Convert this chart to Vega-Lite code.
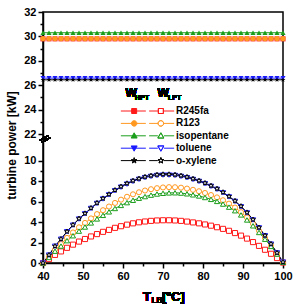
{
  "$schema": "https://vega.github.io/schema/vega-lite/v6.json",
  "width": 240,
  "height": 251,
  "autosize": {"type": "none"},
  "padding": {"left": 43, "top": 12, "right": 10, "bottom": 45},
  "background": "white",
  "config": {
    "font": "Liberation Sans",
    "view": {"stroke": "black", "strokeWidth": 1.5},
    "axis": {
      "domainColor": "black", "domainWidth": 1.5, "tickColor": "black", "tickWidth": 1.5,
      "labelColor": "black", "labelFont": "Liberation Sans", "labelFontWeight": "bold", "labelFontSize": 11,
      "labelOverlap": false, "labelFlush": false,
      "titleColor": "black", "titleFont": "Liberation Sans", "titleFontWeight": "bold", "grid": false
    },
    "legend": {
      "orient": "none", "legendX": 99, "legendY": 93.5, "title": null, "padding": 0,
      "labelFont": "Liberation Sans", "labelFontSize": 10, "labelFontWeight": "bold", "labelColor": "black",
      "labelOffset": 23, "rowPadding": 1.4, "symbolSize": 100, "symbolStrokeWidth": 1
    }
  },
  "data": {"values": [
    {"fluid":"R245fa","stage":"HPT","T":40,"W":29.8},{"fluid":"R245fa","stage":"HPT","T":41.5,"W":29.8},{"fluid":"R245fa","stage":"HPT","T":43,"W":29.8},{"fluid":"R245fa","stage":"HPT","T":44.5,"W":29.8},{"fluid":"R245fa","stage":"HPT","T":46,"W":29.8},{"fluid":"R245fa","stage":"HPT","T":47.5,"W":29.8},{"fluid":"R245fa","stage":"HPT","T":49,"W":29.8},{"fluid":"R245fa","stage":"HPT","T":50.5,"W":29.8},{"fluid":"R245fa","stage":"HPT","T":52,"W":29.8},{"fluid":"R245fa","stage":"HPT","T":53.5,"W":29.8},{"fluid":"R245fa","stage":"HPT","T":55,"W":29.8},{"fluid":"R245fa","stage":"HPT","T":56.5,"W":29.8},{"fluid":"R245fa","stage":"HPT","T":58,"W":29.8},{"fluid":"R245fa","stage":"HPT","T":59.5,"W":29.8},{"fluid":"R245fa","stage":"HPT","T":61,"W":29.8},{"fluid":"R245fa","stage":"HPT","T":62.5,"W":29.8},{"fluid":"R245fa","stage":"HPT","T":64,"W":29.8},{"fluid":"R245fa","stage":"HPT","T":65.5,"W":29.8},{"fluid":"R245fa","stage":"HPT","T":67,"W":29.8},{"fluid":"R245fa","stage":"HPT","T":68.5,"W":29.8},{"fluid":"R245fa","stage":"HPT","T":70,"W":29.8},{"fluid":"R245fa","stage":"HPT","T":71.5,"W":29.8},{"fluid":"R245fa","stage":"HPT","T":73,"W":29.8},{"fluid":"R245fa","stage":"HPT","T":74.5,"W":29.8},{"fluid":"R245fa","stage":"HPT","T":76,"W":29.8},{"fluid":"R245fa","stage":"HPT","T":77.5,"W":29.8},{"fluid":"R245fa","stage":"HPT","T":79,"W":29.8},{"fluid":"R245fa","stage":"HPT","T":80.5,"W":29.8},{"fluid":"R245fa","stage":"HPT","T":82,"W":29.8},{"fluid":"R245fa","stage":"HPT","T":83.5,"W":29.8},{"fluid":"R245fa","stage":"HPT","T":85,"W":29.8},{"fluid":"R245fa","stage":"HPT","T":86.5,"W":29.8},{"fluid":"R245fa","stage":"HPT","T":88,"W":29.8},{"fluid":"R245fa","stage":"HPT","T":89.5,"W":29.8},{"fluid":"R245fa","stage":"HPT","T":91,"W":29.8},{"fluid":"R245fa","stage":"HPT","T":92.5,"W":29.8},{"fluid":"R245fa","stage":"HPT","T":94,"W":29.8},{"fluid":"R245fa","stage":"HPT","T":95.5,"W":29.8},{"fluid":"R245fa","stage":"HPT","T":97,"W":29.8},{"fluid":"R245fa","stage":"HPT","T":98.5,"W":29.8},{"fluid":"R245fa","stage":"HPT","T":100,"W":29.8},
    {"fluid":"R123","stage":"HPT","T":40,"W":29.82},{"fluid":"R123","stage":"HPT","T":41.5,"W":29.82},{"fluid":"R123","stage":"HPT","T":43,"W":29.82},{"fluid":"R123","stage":"HPT","T":44.5,"W":29.82},{"fluid":"R123","stage":"HPT","T":46,"W":29.82},{"fluid":"R123","stage":"HPT","T":47.5,"W":29.82},{"fluid":"R123","stage":"HPT","T":49,"W":29.82},{"fluid":"R123","stage":"HPT","T":50.5,"W":29.82},{"fluid":"R123","stage":"HPT","T":52,"W":29.82},{"fluid":"R123","stage":"HPT","T":53.5,"W":29.82},{"fluid":"R123","stage":"HPT","T":55,"W":29.82},{"fluid":"R123","stage":"HPT","T":56.5,"W":29.82},{"fluid":"R123","stage":"HPT","T":58,"W":29.82},{"fluid":"R123","stage":"HPT","T":59.5,"W":29.82},{"fluid":"R123","stage":"HPT","T":61,"W":29.82},{"fluid":"R123","stage":"HPT","T":62.5,"W":29.82},{"fluid":"R123","stage":"HPT","T":64,"W":29.82},{"fluid":"R123","stage":"HPT","T":65.5,"W":29.82},{"fluid":"R123","stage":"HPT","T":67,"W":29.82},{"fluid":"R123","stage":"HPT","T":68.5,"W":29.82},{"fluid":"R123","stage":"HPT","T":70,"W":29.82},{"fluid":"R123","stage":"HPT","T":71.5,"W":29.82},{"fluid":"R123","stage":"HPT","T":73,"W":29.82},{"fluid":"R123","stage":"HPT","T":74.5,"W":29.82},{"fluid":"R123","stage":"HPT","T":76,"W":29.82},{"fluid":"R123","stage":"HPT","T":77.5,"W":29.82},{"fluid":"R123","stage":"HPT","T":79,"W":29.82},{"fluid":"R123","stage":"HPT","T":80.5,"W":29.82},{"fluid":"R123","stage":"HPT","T":82,"W":29.82},{"fluid":"R123","stage":"HPT","T":83.5,"W":29.82},{"fluid":"R123","stage":"HPT","T":85,"W":29.82},{"fluid":"R123","stage":"HPT","T":86.5,"W":29.82},{"fluid":"R123","stage":"HPT","T":88,"W":29.82},{"fluid":"R123","stage":"HPT","T":89.5,"W":29.82},{"fluid":"R123","stage":"HPT","T":91,"W":29.82},{"fluid":"R123","stage":"HPT","T":92.5,"W":29.82},{"fluid":"R123","stage":"HPT","T":94,"W":29.82},{"fluid":"R123","stage":"HPT","T":95.5,"W":29.82},{"fluid":"R123","stage":"HPT","T":97,"W":29.82},{"fluid":"R123","stage":"HPT","T":98.5,"W":29.82},{"fluid":"R123","stage":"HPT","T":100,"W":29.82},
    {"fluid":"isopentane","stage":"HPT","T":40,"W":30.3},{"fluid":"isopentane","stage":"HPT","T":41.5,"W":30.3},{"fluid":"isopentane","stage":"HPT","T":43,"W":30.3},{"fluid":"isopentane","stage":"HPT","T":44.5,"W":30.3},{"fluid":"isopentane","stage":"HPT","T":46,"W":30.3},{"fluid":"isopentane","stage":"HPT","T":47.5,"W":30.3},{"fluid":"isopentane","stage":"HPT","T":49,"W":30.3},{"fluid":"isopentane","stage":"HPT","T":50.5,"W":30.3},{"fluid":"isopentane","stage":"HPT","T":52,"W":30.3},{"fluid":"isopentane","stage":"HPT","T":53.5,"W":30.3},{"fluid":"isopentane","stage":"HPT","T":55,"W":30.3},{"fluid":"isopentane","stage":"HPT","T":56.5,"W":30.3},{"fluid":"isopentane","stage":"HPT","T":58,"W":30.3},{"fluid":"isopentane","stage":"HPT","T":59.5,"W":30.3},{"fluid":"isopentane","stage":"HPT","T":61,"W":30.3},{"fluid":"isopentane","stage":"HPT","T":62.5,"W":30.3},{"fluid":"isopentane","stage":"HPT","T":64,"W":30.3},{"fluid":"isopentane","stage":"HPT","T":65.5,"W":30.3},{"fluid":"isopentane","stage":"HPT","T":67,"W":30.3},{"fluid":"isopentane","stage":"HPT","T":68.5,"W":30.3},{"fluid":"isopentane","stage":"HPT","T":70,"W":30.3},{"fluid":"isopentane","stage":"HPT","T":71.5,"W":30.3},{"fluid":"isopentane","stage":"HPT","T":73,"W":30.3},{"fluid":"isopentane","stage":"HPT","T":74.5,"W":30.3},{"fluid":"isopentane","stage":"HPT","T":76,"W":30.3},{"fluid":"isopentane","stage":"HPT","T":77.5,"W":30.3},{"fluid":"isopentane","stage":"HPT","T":79,"W":30.3},{"fluid":"isopentane","stage":"HPT","T":80.5,"W":30.3},{"fluid":"isopentane","stage":"HPT","T":82,"W":30.3},{"fluid":"isopentane","stage":"HPT","T":83.5,"W":30.3},{"fluid":"isopentane","stage":"HPT","T":85,"W":30.3},{"fluid":"isopentane","stage":"HPT","T":86.5,"W":30.3},{"fluid":"isopentane","stage":"HPT","T":88,"W":30.3},{"fluid":"isopentane","stage":"HPT","T":89.5,"W":30.3},{"fluid":"isopentane","stage":"HPT","T":91,"W":30.3},{"fluid":"isopentane","stage":"HPT","T":92.5,"W":30.3},{"fluid":"isopentane","stage":"HPT","T":94,"W":30.3},{"fluid":"isopentane","stage":"HPT","T":95.5,"W":30.3},{"fluid":"isopentane","stage":"HPT","T":97,"W":30.3},{"fluid":"isopentane","stage":"HPT","T":98.5,"W":30.3},{"fluid":"isopentane","stage":"HPT","T":100,"W":30.3},
    {"fluid":"toluene","stage":"HPT","T":40,"W":26.58},{"fluid":"toluene","stage":"HPT","T":41.5,"W":26.58},{"fluid":"toluene","stage":"HPT","T":43,"W":26.58},{"fluid":"toluene","stage":"HPT","T":44.5,"W":26.58},{"fluid":"toluene","stage":"HPT","T":46,"W":26.58},{"fluid":"toluene","stage":"HPT","T":47.5,"W":26.58},{"fluid":"toluene","stage":"HPT","T":49,"W":26.58},{"fluid":"toluene","stage":"HPT","T":50.5,"W":26.58},{"fluid":"toluene","stage":"HPT","T":52,"W":26.58},{"fluid":"toluene","stage":"HPT","T":53.5,"W":26.58},{"fluid":"toluene","stage":"HPT","T":55,"W":26.58},{"fluid":"toluene","stage":"HPT","T":56.5,"W":26.58},{"fluid":"toluene","stage":"HPT","T":58,"W":26.58},{"fluid":"toluene","stage":"HPT","T":59.5,"W":26.58},{"fluid":"toluene","stage":"HPT","T":61,"W":26.58},{"fluid":"toluene","stage":"HPT","T":62.5,"W":26.58},{"fluid":"toluene","stage":"HPT","T":64,"W":26.58},{"fluid":"toluene","stage":"HPT","T":65.5,"W":26.58},{"fluid":"toluene","stage":"HPT","T":67,"W":26.58},{"fluid":"toluene","stage":"HPT","T":68.5,"W":26.58},{"fluid":"toluene","stage":"HPT","T":70,"W":26.58},{"fluid":"toluene","stage":"HPT","T":71.5,"W":26.58},{"fluid":"toluene","stage":"HPT","T":73,"W":26.58},{"fluid":"toluene","stage":"HPT","T":74.5,"W":26.58},{"fluid":"toluene","stage":"HPT","T":76,"W":26.58},{"fluid":"toluene","stage":"HPT","T":77.5,"W":26.58},{"fluid":"toluene","stage":"HPT","T":79,"W":26.58},{"fluid":"toluene","stage":"HPT","T":80.5,"W":26.58},{"fluid":"toluene","stage":"HPT","T":82,"W":26.58},{"fluid":"toluene","stage":"HPT","T":83.5,"W":26.58},{"fluid":"toluene","stage":"HPT","T":85,"W":26.58},{"fluid":"toluene","stage":"HPT","T":86.5,"W":26.58},{"fluid":"toluene","stage":"HPT","T":88,"W":26.58},{"fluid":"toluene","stage":"HPT","T":89.5,"W":26.58},{"fluid":"toluene","stage":"HPT","T":91,"W":26.58},{"fluid":"toluene","stage":"HPT","T":92.5,"W":26.58},{"fluid":"toluene","stage":"HPT","T":94,"W":26.58},{"fluid":"toluene","stage":"HPT","T":95.5,"W":26.58},{"fluid":"toluene","stage":"HPT","T":97,"W":26.58},{"fluid":"toluene","stage":"HPT","T":98.5,"W":26.58},{"fluid":"toluene","stage":"HPT","T":100,"W":26.58},
    {"fluid":"o-xylene","stage":"HPT","T":40,"W":26.44},{"fluid":"o-xylene","stage":"HPT","T":41.5,"W":26.44},{"fluid":"o-xylene","stage":"HPT","T":43,"W":26.44},{"fluid":"o-xylene","stage":"HPT","T":44.5,"W":26.44},{"fluid":"o-xylene","stage":"HPT","T":46,"W":26.44},{"fluid":"o-xylene","stage":"HPT","T":47.5,"W":26.44},{"fluid":"o-xylene","stage":"HPT","T":49,"W":26.44},{"fluid":"o-xylene","stage":"HPT","T":50.5,"W":26.44},{"fluid":"o-xylene","stage":"HPT","T":52,"W":26.44},{"fluid":"o-xylene","stage":"HPT","T":53.5,"W":26.44},{"fluid":"o-xylene","stage":"HPT","T":55,"W":26.44},{"fluid":"o-xylene","stage":"HPT","T":56.5,"W":26.44},{"fluid":"o-xylene","stage":"HPT","T":58,"W":26.44},{"fluid":"o-xylene","stage":"HPT","T":59.5,"W":26.44},{"fluid":"o-xylene","stage":"HPT","T":61,"W":26.44},{"fluid":"o-xylene","stage":"HPT","T":62.5,"W":26.44},{"fluid":"o-xylene","stage":"HPT","T":64,"W":26.44},{"fluid":"o-xylene","stage":"HPT","T":65.5,"W":26.44},{"fluid":"o-xylene","stage":"HPT","T":67,"W":26.44},{"fluid":"o-xylene","stage":"HPT","T":68.5,"W":26.44},{"fluid":"o-xylene","stage":"HPT","T":70,"W":26.44},{"fluid":"o-xylene","stage":"HPT","T":71.5,"W":26.44},{"fluid":"o-xylene","stage":"HPT","T":73,"W":26.44},{"fluid":"o-xylene","stage":"HPT","T":74.5,"W":26.44},{"fluid":"o-xylene","stage":"HPT","T":76,"W":26.44},{"fluid":"o-xylene","stage":"HPT","T":77.5,"W":26.44},{"fluid":"o-xylene","stage":"HPT","T":79,"W":26.44},{"fluid":"o-xylene","stage":"HPT","T":80.5,"W":26.44},{"fluid":"o-xylene","stage":"HPT","T":82,"W":26.44},{"fluid":"o-xylene","stage":"HPT","T":83.5,"W":26.44},{"fluid":"o-xylene","stage":"HPT","T":85,"W":26.44},{"fluid":"o-xylene","stage":"HPT","T":86.5,"W":26.44},{"fluid":"o-xylene","stage":"HPT","T":88,"W":26.44},{"fluid":"o-xylene","stage":"HPT","T":89.5,"W":26.44},{"fluid":"o-xylene","stage":"HPT","T":91,"W":26.44},{"fluid":"o-xylene","stage":"HPT","T":92.5,"W":26.44},{"fluid":"o-xylene","stage":"HPT","T":94,"W":26.44},{"fluid":"o-xylene","stage":"HPT","T":95.5,"W":26.44},{"fluid":"o-xylene","stage":"HPT","T":97,"W":26.44},{"fluid":"o-xylene","stage":"HPT","T":98.5,"W":26.44},{"fluid":"o-xylene","stage":"HPT","T":100,"W":26.44},
    {"fluid":"R245fa","stage":"LPT","T":40,"W":0},{"fluid":"R245fa","stage":"LPT","T":41.5,"W":0.38},{"fluid":"R245fa","stage":"LPT","T":43,"W":0.79},{"fluid":"R245fa","stage":"LPT","T":44.5,"W":1.13},{"fluid":"R245fa","stage":"LPT","T":46,"W":1.48},{"fluid":"R245fa","stage":"LPT","T":47.5,"W":1.79},{"fluid":"R245fa","stage":"LPT","T":49,"W":2.09},{"fluid":"R245fa","stage":"LPT","T":50.5,"W":2.34},{"fluid":"R245fa","stage":"LPT","T":52,"W":2.59},{"fluid":"R245fa","stage":"LPT","T":53.5,"W":2.82},{"fluid":"R245fa","stage":"LPT","T":55,"W":3.04},{"fluid":"R245fa","stage":"LPT","T":56.5,"W":3.23},{"fluid":"R245fa","stage":"LPT","T":58,"W":3.43},{"fluid":"R245fa","stage":"LPT","T":59.5,"W":3.59},{"fluid":"R245fa","stage":"LPT","T":61,"W":3.74},{"fluid":"R245fa","stage":"LPT","T":62.5,"W":3.87},{"fluid":"R245fa","stage":"LPT","T":64,"W":3.97},{"fluid":"R245fa","stage":"LPT","T":65.5,"W":4.05},{"fluid":"R245fa","stage":"LPT","T":67,"W":4.11},{"fluid":"R245fa","stage":"LPT","T":68.5,"W":4.15},{"fluid":"R245fa","stage":"LPT","T":70,"W":4.17},{"fluid":"R245fa","stage":"LPT","T":71.5,"W":4.17},{"fluid":"R245fa","stage":"LPT","T":73,"W":4.15},{"fluid":"R245fa","stage":"LPT","T":74.5,"W":4.11},{"fluid":"R245fa","stage":"LPT","T":76,"W":4.04},{"fluid":"R245fa","stage":"LPT","T":77.5,"W":3.96},{"fluid":"R245fa","stage":"LPT","T":79,"W":3.87},{"fluid":"R245fa","stage":"LPT","T":80.5,"W":3.76},{"fluid":"R245fa","stage":"LPT","T":82,"W":3.64},{"fluid":"R245fa","stage":"LPT","T":83.5,"W":3.49},{"fluid":"R245fa","stage":"LPT","T":85,"W":3.33},{"fluid":"R245fa","stage":"LPT","T":86.5,"W":3.14},{"fluid":"R245fa","stage":"LPT","T":88,"W":2.92},{"fluid":"R245fa","stage":"LPT","T":89.5,"W":2.67},{"fluid":"R245fa","stage":"LPT","T":91,"W":2.38},{"fluid":"R245fa","stage":"LPT","T":92.5,"W":2.04},{"fluid":"R245fa","stage":"LPT","T":94,"W":1.67},{"fluid":"R245fa","stage":"LPT","T":95.5,"W":1.29},{"fluid":"R245fa","stage":"LPT","T":97,"W":0.9},{"fluid":"R245fa","stage":"LPT","T":98.5,"W":0.48},{"fluid":"R245fa","stage":"LPT","T":100,"W":0.04},
    {"fluid":"R123","stage":"LPT","T":40,"W":0},{"fluid":"R123","stage":"LPT","T":41.5,"W":0.61},{"fluid":"R123","stage":"LPT","T":43,"W":1.3},{"fluid":"R123","stage":"LPT","T":44.5,"W":1.85},{"fluid":"R123","stage":"LPT","T":46,"W":2.45},{"fluid":"R123","stage":"LPT","T":47.5,"W":2.98},{"fluid":"R123","stage":"LPT","T":49,"W":3.48},{"fluid":"R123","stage":"LPT","T":50.5,"W":3.91},{"fluid":"R123","stage":"LPT","T":52,"W":4.35},{"fluid":"R123","stage":"LPT","T":53.5,"W":4.77},{"fluid":"R123","stage":"LPT","T":55,"W":5.15},{"fluid":"R123","stage":"LPT","T":56.5,"W":5.51},{"fluid":"R123","stage":"LPT","T":58,"W":5.86},{"fluid":"R123","stage":"LPT","T":59.5,"W":6.18},{"fluid":"R123","stage":"LPT","T":61,"W":6.46},{"fluid":"R123","stage":"LPT","T":62.5,"W":6.7},{"fluid":"R123","stage":"LPT","T":64,"W":6.9},{"fluid":"R123","stage":"LPT","T":65.5,"W":7.07},{"fluid":"R123","stage":"LPT","T":67,"W":7.2},{"fluid":"R123","stage":"LPT","T":68.5,"W":7.3},{"fluid":"R123","stage":"LPT","T":70,"W":7.37},{"fluid":"R123","stage":"LPT","T":71.5,"W":7.4},{"fluid":"R123","stage":"LPT","T":73,"W":7.39},{"fluid":"R123","stage":"LPT","T":74.5,"W":7.35},{"fluid":"R123","stage":"LPT","T":76,"W":7.26},{"fluid":"R123","stage":"LPT","T":77.5,"W":7.14},{"fluid":"R123","stage":"LPT","T":79,"W":7.0},{"fluid":"R123","stage":"LPT","T":80.5,"W":6.83},{"fluid":"R123","stage":"LPT","T":82,"W":6.63},{"fluid":"R123","stage":"LPT","T":83.5,"W":6.4},{"fluid":"R123","stage":"LPT","T":85,"W":6.12},{"fluid":"R123","stage":"LPT","T":86.5,"W":5.79},{"fluid":"R123","stage":"LPT","T":88,"W":5.41},{"fluid":"R123","stage":"LPT","T":89.5,"W":4.96},{"fluid":"R123","stage":"LPT","T":91,"W":4.44},{"fluid":"R123","stage":"LPT","T":92.5,"W":3.83},{"fluid":"R123","stage":"LPT","T":94,"W":3.14},{"fluid":"R123","stage":"LPT","T":95.5,"W":2.44},{"fluid":"R123","stage":"LPT","T":97,"W":1.7},{"fluid":"R123","stage":"LPT","T":98.5,"W":0.91},{"fluid":"R123","stage":"LPT","T":100,"W":0.08},
    {"fluid":"isopentane","stage":"LPT","T":40,"W":0},{"fluid":"isopentane","stage":"LPT","T":41.5,"W":0.54},{"fluid":"isopentane","stage":"LPT","T":43,"W":1.15},{"fluid":"isopentane","stage":"LPT","T":44.5,"W":1.65},{"fluid":"isopentane","stage":"LPT","T":46,"W":2.18},{"fluid":"isopentane","stage":"LPT","T":47.5,"W":2.66},{"fluid":"isopentane","stage":"LPT","T":49,"W":3.11},{"fluid":"isopentane","stage":"LPT","T":50.5,"W":3.51},{"fluid":"isopentane","stage":"LPT","T":52,"W":3.91},{"fluid":"isopentane","stage":"LPT","T":53.5,"W":4.3},{"fluid":"isopentane","stage":"LPT","T":55,"W":4.65},{"fluid":"isopentane","stage":"LPT","T":56.5,"W":4.99},{"fluid":"isopentane","stage":"LPT","T":58,"W":5.32},{"fluid":"isopentane","stage":"LPT","T":59.5,"W":5.62},{"fluid":"isopentane","stage":"LPT","T":61,"W":5.89},{"fluid":"isopentane","stage":"LPT","T":62.5,"W":6.12},{"fluid":"isopentane","stage":"LPT","T":64,"W":6.32},{"fluid":"isopentane","stage":"LPT","T":65.5,"W":6.48},{"fluid":"isopentane","stage":"LPT","T":67,"W":6.62},{"fluid":"isopentane","stage":"LPT","T":68.5,"W":6.73},{"fluid":"isopentane","stage":"LPT","T":70,"W":6.8},{"fluid":"isopentane","stage":"LPT","T":71.5,"W":6.84},{"fluid":"isopentane","stage":"LPT","T":73,"W":6.85},{"fluid":"isopentane","stage":"LPT","T":74.5,"W":6.82},{"fluid":"isopentane","stage":"LPT","T":76,"W":6.75},{"fluid":"isopentane","stage":"LPT","T":77.5,"W":6.65},{"fluid":"isopentane","stage":"LPT","T":79,"W":6.54},{"fluid":"isopentane","stage":"LPT","T":80.5,"W":6.39},{"fluid":"isopentane","stage":"LPT","T":82,"W":6.21},{"fluid":"isopentane","stage":"LPT","T":83.5,"W":6.01},{"fluid":"isopentane","stage":"LPT","T":85,"W":5.75},{"fluid":"isopentane","stage":"LPT","T":86.5,"W":5.45},{"fluid":"isopentane","stage":"LPT","T":88,"W":5.1},{"fluid":"isopentane","stage":"LPT","T":89.5,"W":4.69},{"fluid":"isopentane","stage":"LPT","T":91,"W":4.2},{"fluid":"isopentane","stage":"LPT","T":92.5,"W":3.63},{"fluid":"isopentane","stage":"LPT","T":94,"W":2.98},{"fluid":"isopentane","stage":"LPT","T":95.5,"W":2.32},{"fluid":"isopentane","stage":"LPT","T":97,"W":1.62},{"fluid":"isopentane","stage":"LPT","T":98.5,"W":0.87},{"fluid":"isopentane","stage":"LPT","T":100,"W":0.07},
    {"fluid":"toluene","stage":"LPT","T":40,"W":0},{"fluid":"toluene","stage":"LPT","T":41.5,"W":0.77},{"fluid":"toluene","stage":"LPT","T":43,"W":1.63},{"fluid":"toluene","stage":"LPT","T":44.5,"W":2.32},{"fluid":"toluene","stage":"LPT","T":46,"W":3.05},{"fluid":"toluene","stage":"LPT","T":47.5,"W":3.69},{"fluid":"toluene","stage":"LPT","T":49,"W":4.29},{"fluid":"toluene","stage":"LPT","T":50.5,"W":4.8},{"fluid":"toluene","stage":"LPT","T":52,"W":5.32},{"fluid":"toluene","stage":"LPT","T":53.5,"W":5.81},{"fluid":"toluene","stage":"LPT","T":55,"W":6.25},{"fluid":"toluene","stage":"LPT","T":56.5,"W":6.65},{"fluid":"toluene","stage":"LPT","T":58,"W":7.05},{"fluid":"toluene","stage":"LPT","T":59.5,"W":7.4},{"fluid":"toluene","stage":"LPT","T":61,"W":7.7},{"fluid":"toluene","stage":"LPT","T":62.5,"W":7.96},{"fluid":"toluene","stage":"LPT","T":64,"W":8.17},{"fluid":"toluene","stage":"LPT","T":65.5,"W":8.33},{"fluid":"toluene","stage":"LPT","T":67,"W":8.45},{"fluid":"toluene","stage":"LPT","T":68.5,"W":8.54},{"fluid":"toluene","stage":"LPT","T":70,"W":8.58},{"fluid":"toluene","stage":"LPT","T":71.5,"W":8.58},{"fluid":"toluene","stage":"LPT","T":73,"W":8.54},{"fluid":"toluene","stage":"LPT","T":74.5,"W":8.45},{"fluid":"toluene","stage":"LPT","T":76,"W":8.32},{"fluid":"toluene","stage":"LPT","T":77.5,"W":8.15},{"fluid":"toluene","stage":"LPT","T":79,"W":7.96},{"fluid":"toluene","stage":"LPT","T":80.5,"W":7.74},{"fluid":"toluene","stage":"LPT","T":82,"W":7.48},{"fluid":"toluene","stage":"LPT","T":83.5,"W":7.19},{"fluid":"toluene","stage":"LPT","T":85,"W":6.85},{"fluid":"toluene","stage":"LPT","T":86.5,"W":6.45},{"fluid":"toluene","stage":"LPT","T":88,"W":6.01},{"fluid":"toluene","stage":"LPT","T":89.5,"W":5.49},{"fluid":"toluene","stage":"LPT","T":91,"W":4.89},{"fluid":"toluene","stage":"LPT","T":92.5,"W":4.2},{"fluid":"toluene","stage":"LPT","T":94,"W":3.43},{"fluid":"toluene","stage":"LPT","T":95.5,"W":2.66},{"fluid":"toluene","stage":"LPT","T":97,"W":1.84},{"fluid":"toluene","stage":"LPT","T":98.5,"W":0.99},{"fluid":"toluene","stage":"LPT","T":100,"W":0.09},
    {"fluid":"o-xylene","stage":"LPT","T":40,"W":0},{"fluid":"o-xylene","stage":"LPT","T":41.5,"W":0.78},{"fluid":"o-xylene","stage":"LPT","T":43,"W":1.64},{"fluid":"o-xylene","stage":"LPT","T":44.5,"W":2.34},{"fluid":"o-xylene","stage":"LPT","T":46,"W":3.07},{"fluid":"o-xylene","stage":"LPT","T":47.5,"W":3.72},{"fluid":"o-xylene","stage":"LPT","T":49,"W":4.33},{"fluid":"o-xylene","stage":"LPT","T":50.5,"W":4.84},{"fluid":"o-xylene","stage":"LPT","T":52,"W":5.36},{"fluid":"o-xylene","stage":"LPT","T":53.5,"W":5.86},{"fluid":"o-xylene","stage":"LPT","T":55,"W":6.3},{"fluid":"o-xylene","stage":"LPT","T":56.5,"W":6.7},{"fluid":"o-xylene","stage":"LPT","T":58,"W":7.11},{"fluid":"o-xylene","stage":"LPT","T":59.5,"W":7.46},{"fluid":"o-xylene","stage":"LPT","T":61,"W":7.77},{"fluid":"o-xylene","stage":"LPT","T":62.5,"W":8.03},{"fluid":"o-xylene","stage":"LPT","T":64,"W":8.23},{"fluid":"o-xylene","stage":"LPT","T":65.5,"W":8.4},{"fluid":"o-xylene","stage":"LPT","T":67,"W":8.52},{"fluid":"o-xylene","stage":"LPT","T":68.5,"W":8.61},{"fluid":"o-xylene","stage":"LPT","T":70,"W":8.65},{"fluid":"o-xylene","stage":"LPT","T":71.5,"W":8.65},{"fluid":"o-xylene","stage":"LPT","T":73,"W":8.61},{"fluid":"o-xylene","stage":"LPT","T":74.5,"W":8.52},{"fluid":"o-xylene","stage":"LPT","T":76,"W":8.39},{"fluid":"o-xylene","stage":"LPT","T":77.5,"W":8.22},{"fluid":"o-xylene","stage":"LPT","T":79,"W":8.03},{"fluid":"o-xylene","stage":"LPT","T":80.5,"W":7.8},{"fluid":"o-xylene","stage":"LPT","T":82,"W":7.54},{"fluid":"o-xylene","stage":"LPT","T":83.5,"W":7.25},{"fluid":"o-xylene","stage":"LPT","T":85,"W":6.9},{"fluid":"o-xylene","stage":"LPT","T":86.5,"W":6.5},{"fluid":"o-xylene","stage":"LPT","T":88,"W":6.06},{"fluid":"o-xylene","stage":"LPT","T":89.5,"W":5.54},{"fluid":"o-xylene","stage":"LPT","T":91,"W":4.93},{"fluid":"o-xylene","stage":"LPT","T":92.5,"W":4.24},{"fluid":"o-xylene","stage":"LPT","T":94,"W":3.46},{"fluid":"o-xylene","stage":"LPT","T":95.5,"W":2.68},{"fluid":"o-xylene","stage":"LPT","T":97,"W":1.86},{"fluid":"o-xylene","stage":"LPT","T":98.5,"W":0.99},{"fluid":"o-xylene","stage":"LPT","T":100,"W":0.09}
  ]},
  "resolve": {"axis": {"x": "independent", "y": "independent"}},
  "layer": [
    {
      "resolve": {"scale": {"shape": "independent", "fill": "independent", "stroke": "independent"}},
      "layer": [
        {
          "mark": {"type": "line", "strokeWidth": 1},
          "encoding": {
            "x": {"field": "T", "type": "quantitative", "scale": {"domain": [40, 100], "nice": false, "zero": false},
                  "axis": {"orient": "bottom", "values": [40, 50, 60, 70, 80, 90, 100], "format": "d", "tickCount": 50, "tickSize": 5, "labelPadding": 2, "title": null}},
            "y": {"field": "W", "type": "quantitative", "scale": {"domain": [0, 10, 22, 32], "range": [251, 148.5, 122, 0], "nice": false, "zero": false},
                  "axis": {"orient": "left", "values": [0, 2, 4, 6, 8, 10, 22, 24, 26, 28, 30, 32], "format": "d", "tickCount": 50, "tickSize": 5, "labelPadding": 2,
                           "title": "turbine power [kW]", "titleFontSize": 12, "titleX": -28, "titleY": 133, "titleBaseline": "alphabetic"}},
            "color": {"field": "fluid", "type": "nominal", "legend": null,
                      "scale": {"domain": ["R245fa", "R123", "isopentane", "toluene", "o-xylene"], "range": ["#ff1a1a", "#ff9922", "#1c9e1c", "#1a1aff", "#000000"]}},
            "detail": {"field": "stage"}
          }
        },
        {
          "transform": [{"filter": "datum.stage === 'HPT'"}],
          "mark": {"type": "point", "filled": true, "size": 26, "opacity": 1},
          "encoding": {
            "x": {"field": "T", "type": "quantitative"},
            "y": {"field": "W", "type": "quantitative"},
            "color": {"field": "fluid", "type": "nominal", "legend": null},
            "shape": {"field": "fluid", "type": "nominal", "legend": null,
                      "scale": {"domain": ["R245fa", "R123", "isopentane", "toluene", "o-xylene"],
                                "range": ["square", "circle", "triangle-up", "triangle-down", "M0,-1L0.235,-0.324L0.951,-0.309L0.38,0.124L0.588,0.809L0,0.4L-0.588,0.809L-0.38,0.124L-0.951,-0.309L-0.235,-0.324Z"]}}
          }
        },
        {
          "transform": [{"filter": "datum.stage === 'LPT'"}],
          "mark": {"type": "point", "filled": false, "fill": "white", "size": 26, "strokeWidth": 1, "opacity": 1},
          "encoding": {
            "x": {"field": "T", "type": "quantitative"},
            "y": {"field": "W", "type": "quantitative"},
            "color": {"field": "fluid", "type": "nominal", "legend": null},
            "shape": {"field": "fluid", "type": "nominal", "legend": null,
                      "scale": {"domain": ["R245fa", "R123", "isopentane", "toluene", "o-xylene"],
                                "range": ["square", "circle", "triangle-up", "triangle-down", "M0,-1L0.235,-0.324L0.951,-0.309L0.38,0.124L0.588,0.809L0,0.4L-0.588,0.809L-0.38,0.124L-0.951,-0.309L-0.235,-0.324Z"]}}
          }
        },
        {
          "transform": [{"filter": "datum.stage === 'key'"}],
          "mark": {"type": "point", "filled": true, "size": 100, "strokeWidth": 1, "opacity": 1},
          "encoding": {
            "x": {"field": "T", "type": "quantitative"},
            "y": {"field": "W", "type": "quantitative"},
            "fill": {"field": "fluid", "type": "nominal",
                     "scale": {"domain": ["R245fa", "R123", "isopentane", "toluene", "o-xylene"], "range": ["#ff1a1a", "#ff9922", "#1c9e1c", "#1a1aff", "#000000"]}},
            "stroke": {"field": "fluid", "type": "nominal",
                       "scale": {"domain": ["R245fa", "R123", "isopentane", "toluene", "o-xylene"], "range": ["#ff1a1a", "#ff9922", "#1c9e1c", "#1a1aff", "#000000"]}},
            "shape": {"field": "fluid", "type": "nominal",
                      "scale": {"domain": ["R245fa", "R123", "isopentane", "toluene", "o-xylene"],
                                "range": [
                                  "M-5.33,0H-0.33M0.33,0H2.17M3.17,0H5.33M-3.17,-0.5H-2.17V0.5H-3.17ZM2.17,-0.5H3.17V0.5H2.17ZM2.17,-0.5V0.5H3.17V-0.5Z",
                                  "M-5.33,0H-0.33M0.33,0H2.12M3.22,0H5.33M-3.22,0A0.55 0.55 0 1 1 -2.12,0A0.55 0.55 0 1 1 -3.22,0ZM2.12,0A0.55 0.55 0 1 1 3.22,0A0.55 0.55 0 1 1 2.12,0ZM2.12,0A0.55 0.55 0 1 0 3.22,0A0.55 0.55 0 1 0 2.12,0Z",
                                  "M-5.33,0H-0.33M0.33,0H2.07M3.27,0H5.33M-2.67,-0.6L-2.07,0.45H-3.27ZM2.67,-0.6L3.27,0.45H2.07ZM2.67,-0.6L2.07,0.45H3.27Z",
                                  "M-5.33,0H-0.33M0.33,0H2.07M3.27,0H5.33M-2.67,0.6L-2.07,-0.45H-3.27ZM2.67,0.6L3.27,-0.45H2.07ZM2.67,0.6L2.07,-0.45H3.27Z",
                                  "M-5.33,0H-0.33M0.33,0H2.07M3.27,0H5.33M-2.67,-0.6L-2.529,-0.194L-2.099,-0.185L-2.442,0.074L-2.317,0.485L-2.67,0.24L-3.023,0.485L-2.898,0.074L-3.241,-0.185L-2.811,-0.194ZM2.67,-0.6L2.811,-0.194L3.241,-0.185L2.898,0.074L3.023,0.485L2.67,0.24L2.317,0.485L2.442,0.074L2.099,-0.185L2.529,-0.194ZM2.67,-0.6L2.529,-0.194L2.099,-0.185L2.442,0.074L2.317,0.485L2.67,0.24L3.023,0.485L2.898,0.074L3.241,-0.185L2.811,-0.194Z"
                                ]}}
          }
        }
      ]
    },
    {
      "layer": [
        {
          "mark": {"type": "point", "shape": "M-1,0.3L0.6,-0.7M-0.6,0.7L1,-0.3", "size": 100, "filled": false, "stroke": "black", "strokeWidth": 1.3, "opacity": 1},
          "encoding": {
            "x": {"datum": 40.5, "type": "quantitative", "scale": {"domain": [40, 100], "nice": false, "zero": false},
                  "axis": {"orient": "bottom", "values": [45, 55, 65, 75, 85, 95], "tickCount": 50, "tickSize": 3, "labels": false, "domain": false, "title": null}},
            "y": {"datum": 19.74, "type": "quantitative", "scale": {"domain": [0, 10, 22, 32], "range": [251, 148.5, 122, 0], "nice": false, "zero": false},
                  "axis": {"orient": "left", "values": [1, 3, 5, 7, 9, 23, 25, 27, 29, 31], "tickCount": 50, "tickSize": 3, "labels": false, "domain": false, "title": null}}
          }
        },
        {"mark": {"type": "text", "text": "W", "align": "left", "baseline": "alphabetic", "font": "Liberation Sans", "fontSize": 12, "fontWeight": "bold", "color": "black"},
         "encoding": {"x": {"datum": 60.6}, "y": {"datum": 25.06}}},
        {"mark": {"type": "text", "text": "HPT", "align": "left", "baseline": "alphabetic", "font": "Liberation Sans", "fontSize": 7, "fontWeight": "bold", "color": "black"},
         "encoding": {"x": {"datum": 63.0}, "y": {"datum": 24.75}}},
        {"mark": {"type": "text", "text": "W", "align": "left", "baseline": "alphabetic", "font": "Liberation Sans", "fontSize": 12, "fontWeight": "bold", "color": "black"},
         "encoding": {"x": {"datum": 68.6}, "y": {"datum": 25.06}}},
        {"mark": {"type": "text", "text": "LPT", "align": "left", "baseline": "alphabetic", "font": "Liberation Sans", "fontSize": 7, "fontWeight": "bold", "color": "black"},
         "encoding": {"x": {"datum": 71.25}, "y": {"datum": 24.75}}},
        {"mark": {"type": "text", "text": "T", "align": "left", "baseline": "alphabetic", "font": "Liberation Sans", "fontSize": 13, "fontWeight": "bold", "color": "black"},
         "encoding": {"x": {"datum": 65.0}, "y": {"datum": -3.68}}},
        {"mark": {"type": "text", "text": "LB", "align": "left", "baseline": "alphabetic", "font": "Liberation Sans", "fontSize": 8.5, "fontWeight": "bold", "color": "black"},
         "encoding": {"x": {"datum": 67.1}, "y": {"datum": -3.95}}},
        {"mark": {"type": "text", "text": "[°C]", "align": "left", "baseline": "alphabetic", "font": "Liberation Sans", "fontSize": 12.5, "fontWeight": "bold", "color": "black"},
         "encoding": {"x": {"datum": 69.8}, "y": {"datum": -3.68}}}
      ]
    }
  ]
}
